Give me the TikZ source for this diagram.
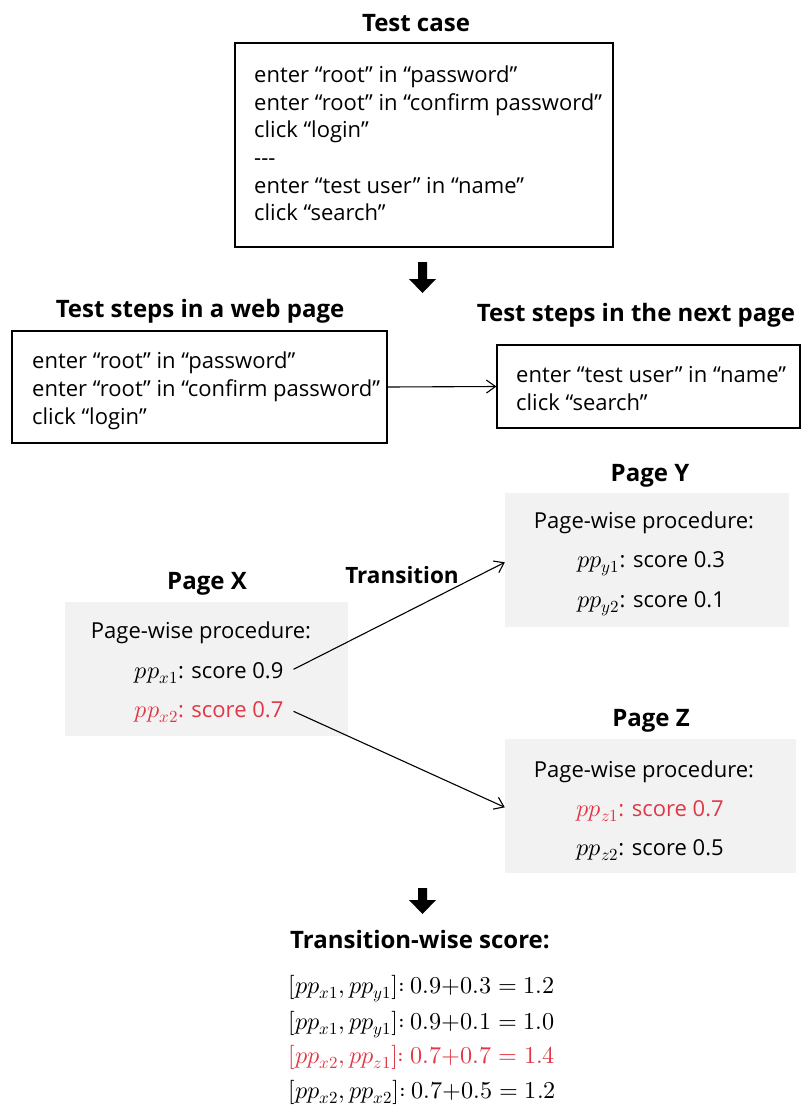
\documentclass[tikz,border=0pt]{standalone}
\usepackage{fontspec}
\usepackage{unicode-math}
\setmainfont{Open Sans}
\setmathfont{Latin Modern Math}[Scale=1.1]
\usetikzlibrary{arrows.meta}
\definecolor{hl}{RGB}{225,55,70}
\definecolor{pagebg}{RGB}{242,242,242}
\begin{document}
\begin{tikzpicture}[x=1pt,y=-1pt,
  txt/.style={font=\fontsize{22}{28}\selectfont, inner sep=0pt, anchor=base west},
  ctxt/.style={font=\fontsize{22}{28}\selectfont, inner sep=0pt, anchor=base},
  ttl/.style={font=\fontsize{24}{28}\selectfont\bfseries, inner sep=0pt, anchor=base},
  stepbox/.style={draw, line width=1.3pt, inner sep=0pt},
  pagebox/.style={fill=pagebg, inner sep=0pt},
  conn/.style={-{Straight Barb[length=9pt,width=13pt]}, line width=1.1pt},
  hlt/.style={text=hl}
]
\useasboundingbox (0,0) rectangle (807,1106);

% ---------- Test case ----------
\node[ttl] (tctitle) at (416,31) {Test case};
\node[stepbox, minimum width=378, minimum height=204] (tc) at (424,145) {};
\node[txt] (tc1) at (254,82) {enter “root” in “password”};
\node[txt] (tc2) at (254,110) {enter “root” in “confirm password”};
\node[txt] (tc3) at (254,137) {click “login”};
\node[txt] (tc4) at (254,165) {-{}-{}-};
\node[txt] (tc5) at (254,193) {enter “test user” in “name”};
\node[txt] (tc6) at (254,220) {click “search”};

% block arrow 1
\fill (418,262) -- (427,262) -- (427,279) -- (436,279) -- (422.5,293) -- (409,279) -- (418,279) -- cycle;

% ---------- Test steps ----------
\node[ttl] (wstitle) at (200,317) {Test steps in a web page};
\node[stepbox, minimum width=375, minimum height=112] (ws) at (199.5,387) {};
\node[txt] (ws1) at (32,368) {enter “root” in “password”};
\node[txt] (ws2) at (32,396) {enter “root” in “confirm password”};
\node[txt] (ws3) at (32,424) {click “login”};

\node[ttl] (nstitle) at (636,321) {Test steps in the next page};
\node[stepbox, minimum width=303, minimum height=83] (ns) at (648.5,386.5) {};
\node[txt] (ns1) at (516,382) {enter “test user” in “name”};
\node[txt] (ns2) at (516,410) {click “search”};

\draw[conn] (ws.east) -- (ns.west);

% ---------- Page X ----------
\node[ttl] (pxtitle) at (207,589) {Page X};
\node[pagebox, minimum width=283, minimum height=134] (px) at (206.5,669) {};
\node[ctxt] (px0) at (201,638) {Page-wise procedure:};
\node[ctxt] (px1) at (209,678) {$pp_{x1}$: score 0.9};
\node[ctxt, hlt] (px2) at (209,717) {$pp_{x2}$: score 0.7};

% ---------- Page Y ----------
\node[ttl] (pytitle) at (650,481) {Page Y};
\node[pagebox, minimum width=284, minimum height=134] (py) at (647,560) {};
\node[ctxt] (py0) at (644,528) {Page-wise procedure:};
\node[ctxt] (py1) at (651,567) {$pp_{y1}$: score 0.3};
\node[ctxt] (py2) at (651,607) {$pp_{y2}$: score 0.1};

% ---------- Page Z ----------
\node[ttl] (pztitle) at (651,726) {Page Z};
\node[pagebox, minimum width=291, minimum height=134] (pz) at (650.5,806) {};
\node[ctxt] (pz0) at (644,777) {Page-wise procedure:};
\node[ctxt, hlt] (pz1) at (650,816) {$pp_{z1}$: score 0.7};
\node[ctxt] (pz2) at (650,855) {$pp_{z2}$: score 0.5};

% transitions
\node[ttl, font=\fontsize{22.5}{28}\selectfont\bfseries] (trlabel) at (402,583) {Transition};
\draw[conn] ([shift={(10,-6)}]px1.mid east) -- ([shift={(0,-2)}]py1.mid -| py.west);
\draw[conn] ([shift={(10,-3)}]px2.mid east) -- ([shift={(0,-6)}]pz1.mid -| pz.west);

% block arrow 2
\fill (418,888) -- (427,888) -- (427,900) -- (436,900) -- (422.5,914) -- (409,900) -- (418,900) -- cycle;

% ---------- Transition-wise score ----------
\node[ttl] (tstitle) at (420,948) {Transition-wise score:};
\node[txt] (ts1) at (288,993) {$[pp_{x1}, pp_{y1}]{:}\ 0.9{+}0.3 = 1.2$};
\node[txt] (ts2) at (288,1029) {$[pp_{x1}, pp_{y1}]{:}\ 0.9{+}0.1 = 1.0$};
\node[txt, hlt] (ts3) at (288,1063) {$[pp_{x2}, pp_{z1}]{:}\ 0.7{+}0.7 = 1.4$};
\node[txt] (ts4) at (288,1098) {$[pp_{x2}, pp_{x2}]{:}\ 0.7{+}0.5 = 1.2$};
\end{tikzpicture}
\end{document}
